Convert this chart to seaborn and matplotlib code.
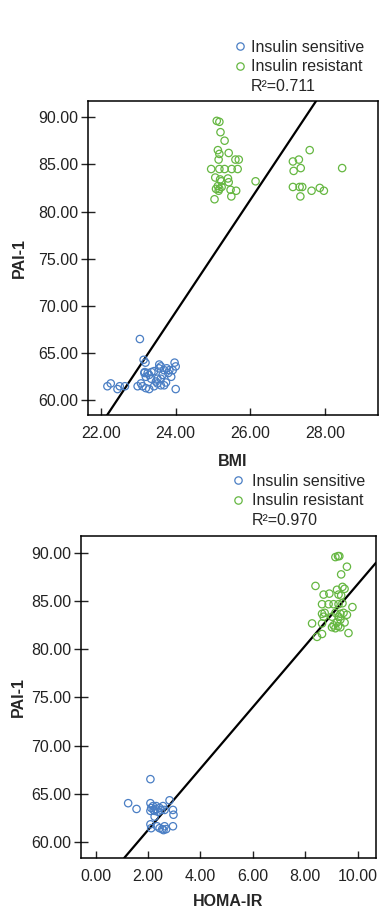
import numpy as np
import pandas as pd
import seaborn as sns
from matplotlib import pyplot as plt
from matplotlib.lines import Line2D

# BMI panel
bmi_sens = [23.04, 22.17, 22.26, 22.44, 22.50, 22.64, 23.14, 23.19, 23.17, 23.25, 23.16, 23.29,
            23.42, 23.56, 23.60, 23.69, 23.76, 23.83, 23.97, 24.00, 23.92, 23.88, 23.65, 23.51,
            23.47, 23.51, 23.60, 23.69, 23.74, 23.42, 23.29, 23.20, 23.11, 23.07, 22.98, 24.00,
            23.34, 23.20, 23.55, 23.35, 23.60, 23.80]
pai_bmi_sens = [66.5, 61.5, 61.8, 61.2, 61.5, 61.5, 64.3, 64.0, 63.0, 62.9, 62.9, 62.7,
                63.1, 63.8, 63.6, 63.2, 63.4, 63.2, 64.0, 63.6, 63.2, 62.5, 62.7, 62.3,
                62.0, 61.8, 61.6, 61.6, 61.9, 61.5, 61.2, 61.3, 61.5, 61.8, 61.5, 61.2,
                62.3, 62.5, 63.4, 63.0, 62.3, 62.9]
bmi_res = [25.10, 25.17, 25.20, 25.31, 25.13, 25.17, 25.42, 25.15, 25.60, 25.69, 24.95, 25.17,
           25.31, 25.50, 25.66, 25.06, 25.19, 25.40, 25.22, 25.42, 25.08, 25.17, 25.23, 25.47,
           25.62, 25.04, 25.49, 26.14, 27.14, 27.30, 27.59, 27.16, 27.35, 28.46, 27.14, 27.32,
           27.39, 27.64, 27.86, 27.97, 27.34, 25.13, 25.15]
pai_bmi_res = [89.6, 89.5, 88.4, 87.5, 86.5, 86.1, 86.2, 85.5, 85.5, 85.5, 84.5, 84.5,
               84.5, 84.5, 84.5, 83.6, 83.4, 83.5, 83.2, 83.1, 82.4, 82.4, 82.6, 82.3,
               82.2, 81.3, 81.6, 83.2, 85.3, 85.5, 86.5, 84.3, 84.6, 84.6, 82.6, 82.6,
               82.6, 82.2, 82.5, 82.2, 81.6, 82.7, 82.2]

# HOMA-IR panel
homa_sens = [2.09, 1.24, 1.56, 2.09, 2.12, 2.21, 2.31, 2.44, 2.25, 2.57, 2.63, 2.82, 2.95,
             2.97, 2.09, 2.12, 2.34, 2.44, 2.54, 2.63, 2.69, 2.95, 2.50, 2.38, 2.09, 2.19,
             2.29, 2.59, 2.25]
pai_homa_sens = [66.5, 64.0, 63.4, 64.0, 63.5, 63.3, 63.7, 63.5, 63.2, 63.7, 63.3, 64.3, 63.3,
                 62.8, 61.8, 61.4, 61.6, 61.4, 61.3, 61.6, 61.3, 61.6, 63.3, 63.1, 63.2, 63.7,
                 63.4, 61.2, 62.6]
homa_res = [9.15, 9.25, 9.30, 9.59, 9.37, 8.39, 9.42, 9.50, 8.70, 8.92, 9.21, 9.27, 9.37,
            8.64, 8.89, 9.08, 9.27, 9.42, 9.80, 8.64, 8.74, 9.15, 9.34, 9.46, 9.59, 8.70,
            9.02, 9.27, 9.34, 8.26, 8.64, 9.21, 9.50, 9.02, 9.15, 9.34, 9.65, 8.45, 8.64,
            9.08, 9.25]
pai_homa_res = [89.6, 89.7, 89.7, 88.6, 87.8, 86.6, 86.5, 86.3, 85.7, 85.8, 86.2, 85.7, 85.6,
                84.7, 84.7, 84.7, 84.7, 84.8, 84.4, 83.7, 83.8, 83.8, 83.7, 83.8, 83.6, 83.4,
                83.4, 83.4, 83.1, 82.7, 82.7, 82.8, 82.8, 82.3, 82.2, 82.3, 81.7, 81.3, 81.6,
                82.5, 82.4]

# fit lines (slope, intercept) and R²
fit_bmi = (5.94, -73.2)
fit_homa = (3.196, 54.82)
r2_labels = ['R²=0.711', 'R²=0.970']

groups = ['Insulin sensitive', 'Insulin resistant']
colors = {'Insulin sensitive': '#4A7EC4', 'Insulin resistant': '#65B741'}

def make_df(xs, ys, xr, yr):
    return pd.DataFrame({
        'x': xs + xr,
        'y': ys + yr,
        'group': [groups[0]] * len(xs) + [groups[1]] * len(xr),
    })

df_bmi = make_df(bmi_sens, pai_bmi_sens, bmi_res, pai_bmi_res)
df_homa = make_df(homa_sens, pai_homa_sens, homa_res, pai_homa_res)

sns.set_style('ticks')
plt.rcParams['font.family'] = ['Liberation Sans', 'DejaVu Sans']
FS = 11.5

fig = plt.figure(figsize=(3.89, 9.11), dpi=100)
ax1 = fig.add_axes([0.2262, 0.5444, 0.7455, 0.3447])
ax2 = fig.add_axes([0.2082, 0.0582, 0.7584, 0.3535])

def draw(ax, df, fit, r2, xlabel, xlim, ylim, xticks, leg_anchor, textpad, xpad, ypad):
    sns.scatterplot(data=df, x='x', y='y', hue='group', palette=colors, s=28,
                    linewidth=0.9, legend=False, ax=ax, zorder=3)
    for coll in ax.collections:
        fc = coll.get_facecolors()
        coll.set_edgecolors(fc)
        coll.set_facecolors('none')
    ax.axline((0, fit[1]), slope=fit[0], color='black', lw=1.6, zorder=2)
    ax.set_xlim(*xlim)
    ax.set_ylim(*ylim)
    ax.set_xticks(xticks)
    ax.set_xticklabels([f'{t:.2f}' for t in xticks])
    yt = [60, 65, 70, 75, 80, 85, 90]
    ax.set_yticks(yt)
    ax.set_yticklabels([f'{t:.2f}' for t in yt])
    ax.tick_params(axis='x', direction='in', length=5, width=1, pad=8, labelsize=FS,
                   colors='#222222')
    ax.tick_params(axis='y', direction='inout', length=10, width=1, pad=2, labelsize=FS,
                   colors='#222222')
    for sp in ax.spines.values():
        sp.set_visible(True)
        sp.set_color('black')
        sp.set_linewidth(1.1)
    ax.set_xlabel(xlabel, fontsize=FS, fontweight='bold', labelpad=xpad)
    ax.set_ylabel('PAI-1', fontsize=FS, fontweight='bold', labelpad=ypad)
    handles = [Line2D([], [], ls='none', marker='o', ms=5.3, mfc='none',
                      mec=colors[g], mew=0.9) for g in groups]
    handles.append(Line2D([], [], ls='none'))
    ax.legend(handles, groups + [r2], loc='upper left', bbox_to_anchor=leg_anchor,
              bbox_transform=fig.transFigure, frameon=False, fontsize=FS,
              handlelength=0.7, handletextpad=textpad, borderpad=0, borderaxespad=0,
              labelspacing=0.27)

draw(ax1, df_bmi, fit_bmi, r2_labels[0], 'BMI', (21.65, 29.42), (58.45, 91.7),
     [22, 24, 26, 28], (234 / 389, 1 - 40 / 911), 0.35, 9, 8)
draw(ax2, df_homa, fit_homa, r2_labels[1], 'HOMA-IR', (-0.56, 10.7), (58.3, 91.8),
     [0, 2, 4, 6, 8, 10], (232 / 389, 1 - 474 / 911), 0.55, 7, 4)

fig.savefig('out.png', dpi=100)
